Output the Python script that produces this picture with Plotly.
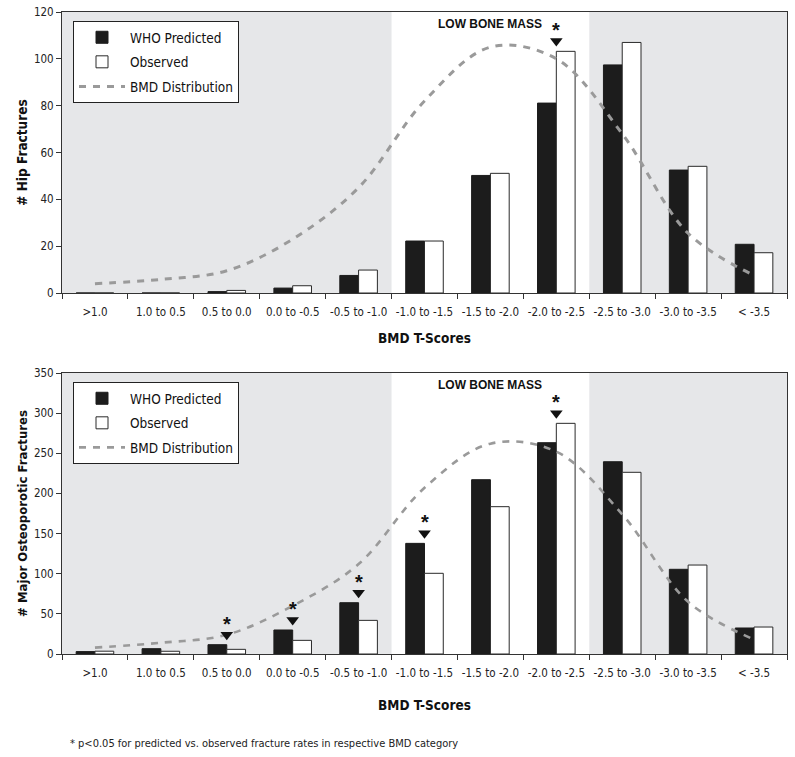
import plotly.graph_objects as go

categories = [">1.0", "1.0 to 0.5", "0.5 to 0.0", "0.0 to -0.5", "-0.5 to -1.0",
              "-1.0 to -1.5", "-1.5 to -2.0", "-2.0 to -2.5", "-2.5 to -3.0",
              "-3.0 to -3.5", "< -3.5"]

hip_predicted = [0, 0, 0.6, 2.1, 7.5, 22.2, 50.2, 81.1, 97.4, 52.5, 20.8]
hip_observed = [0, 0, 1.1, 3.1, 9.8, 22.2, 51.1, 103.2, 107.0, 54.1, 17.2]
hip_bmd = [4.0, 5.8, 9.5, 23, 45, 82, 105, 100, 68, 25.5, 7.5]
hip_signif = ["-2.0 to -2.5"]

mof_predicted = [3, 6.6, 11.6, 29.9, 63.9, 137.8, 217.1, 263.2, 239.5, 105.5, 32.4]
mof_observed = [3.5, 3.4, 5.8, 17.0, 41.9, 100.5, 183.5, 287.3, 226.3, 110.8, 33.6]
mof_bmd = [8, 14, 24, 60, 112, 207, 262, 252, 174, 65, 18]
mof_signif = ["0.5 to 0.0", "0.0 to -0.5", "-0.5 to -1.0", "-1.0 to -1.5", "-2.0 to -2.5"]

hip_ticks = [0, 20, 40, 60, 80, 100, 120]
mof_ticks = [0, 50, 100, 150, 200, 250, 300, 350]

FONT = "DejaVu Sans Condensed, Liberation Sans Narrow, Liberation Sans, Arial, sans-serif"
BG = "#e6e7e9"
W, H = 795, 757

fig = go.Figure()

def px_y(p):
    return 1 - p / H

def add_panel(pred, obs, bmd, signif, xa, ya, legend, pad, lw):
    fig.add_trace(go.Bar(x=categories, y=pred, name="WHO Predicted", legendgroup=legend + "a",
                         marker=dict(color="#1c1c1c", line=dict(color="#1c1c1c", width=1)),
                         xaxis=xa, yaxis=ya, legend=legend))
    fig.add_trace(go.Bar(x=categories, y=obs, name="Observed", legendgroup=legend + "b",
                         marker=dict(color="white", line=dict(color="#2a2a2a", width=1)),
                         xaxis=xa, yaxis=ya, legend=legend))
    fig.add_trace(go.Scatter(x=categories, y=bmd, name="BMD Distribution", mode="lines",
                             legendgroup=legend + "c",
                             line=dict(color="#9a9a9a", width=lw, dash="7px,7px", shape="spline",
                                       smoothing=1.0),
                             xaxis=xa, yaxis=ya, legend=legend))
    sx, sy = [], []
    for c in signif:
        i = categories.index(c)
        sx.append(c)
        sy.append(max(pred[i], obs[i]) + pad)
    fig.add_trace(go.Scatter(x=sx, y=sy, mode="markers", showlegend=False,
                             marker=dict(symbol="triangle-down", size=11, color="#111"),
                             xaxis=xa, yaxis=ya, hoverinfo="skip"))
    for c, yv in zip(sx, sy):
        fig.add_annotation(x=c, y=yv, xref=xa, yref=ya, text="<b>*</b>", showarrow=False,
                           yshift=11, font=dict(size=20, color="#111", family="Liberation Sans"))
    # low bone mass white region
    fig.add_shape(type="rect", xref=xa, yref=ya + " domain", x0=4.5, x1=7.5, y0=0, y1=1,
                  fillcolor="white", line=dict(width=0), layer="below")
    fig.add_annotation(x=categories[6], y=1, xref=xa, yref=ya + " domain", yanchor="top",
                       yshift=-3, text="<b>LOW BONE MASS</b>", showarrow=False,
                       font=dict(size=12, color="#111", family="Liberation Sans"))

add_panel(hip_predicted, hip_observed, hip_bmd, hip_signif, "x", "y", "legend", 4.4, 3)
add_panel(mof_predicted, mof_observed, mof_bmd, mof_signif, "x2", "y2", "legend2", 12.5, 2.6)

xdom = [62 / W, 787 / W]
axis_common = dict(showline=True, linecolor="#333", linewidth=1, mirror=True,
                   ticks="outside", ticklen=5, tickcolor="#333", showgrid=False, zeroline=False,
                   automargin=False,
                   tickfont=dict(family=FONT, size=11.5, color="#222"))
title_font = dict(family=FONT, size=13.5, color="#111")
legend_common = dict(x=73 / W, xanchor="left", yanchor="top", bgcolor="white",
                     bordercolor="#222", borderwidth=1, tracegroupgap=4,
                     font=dict(family=FONT, size=13.5, color="#111"), itemwidth=46)

fig.update_layout(
    width=W, height=H,
    margin=dict(l=0, r=0, t=0, b=0),
    paper_bgcolor="white", plot_bgcolor=BG,
    barmode="group", bargap=0.43, bargroupgap=0,
    showlegend=True,
    xaxis=dict(domain=xdom, anchor="y", range=[-0.5, 10.5], tickson="boundaries", tickangle=0,
               ticklabelstandoff=8,
               title=dict(text="<b>BMD T-Scores</b>", font=title_font, standoff=15),
               **axis_common),
    yaxis=dict(domain=[px_y(293), px_y(12)], anchor="x", range=[0, 120], tickvals=hip_ticks,
               title=dict(text="<b># Hip Fractures</b>", font=title_font, standoff=3),
               **axis_common),
    xaxis2=dict(domain=xdom, anchor="y2", range=[-0.5, 10.5], tickson="boundaries", tickangle=0,
                ticklabelstandoff=8,
                title=dict(text="<b>BMD T-Scores</b>", font=title_font, standoff=21),
                **axis_common),
    yaxis2=dict(domain=[px_y(654), px_y(373)], anchor="x2", range=[0, 350], tickvals=mof_ticks,
                title=dict(text="<b># Major Osteoporotic Fractures</b>",
                           font=dict(family=FONT, size=13, color="#111"), standoff=3),
                **axis_common),
    legend=dict(y=px_y(21), **legend_common),
    legend2=dict(y=px_y(382), **legend_common),
)

fig.add_annotation(x=68 / W, y=px_y(743), xref="paper", yref="paper", xanchor="left",
                   yanchor="middle", showarrow=False,
                   text="* p<0.05 for predicted vs. observed fracture rates in respective BMD category",
                   font=dict(family=FONT, size=11, color="#222"))

fig.write_html("out.html", config={"displayModeBar": False},
               post_script="document.body.style.margin='0';")
